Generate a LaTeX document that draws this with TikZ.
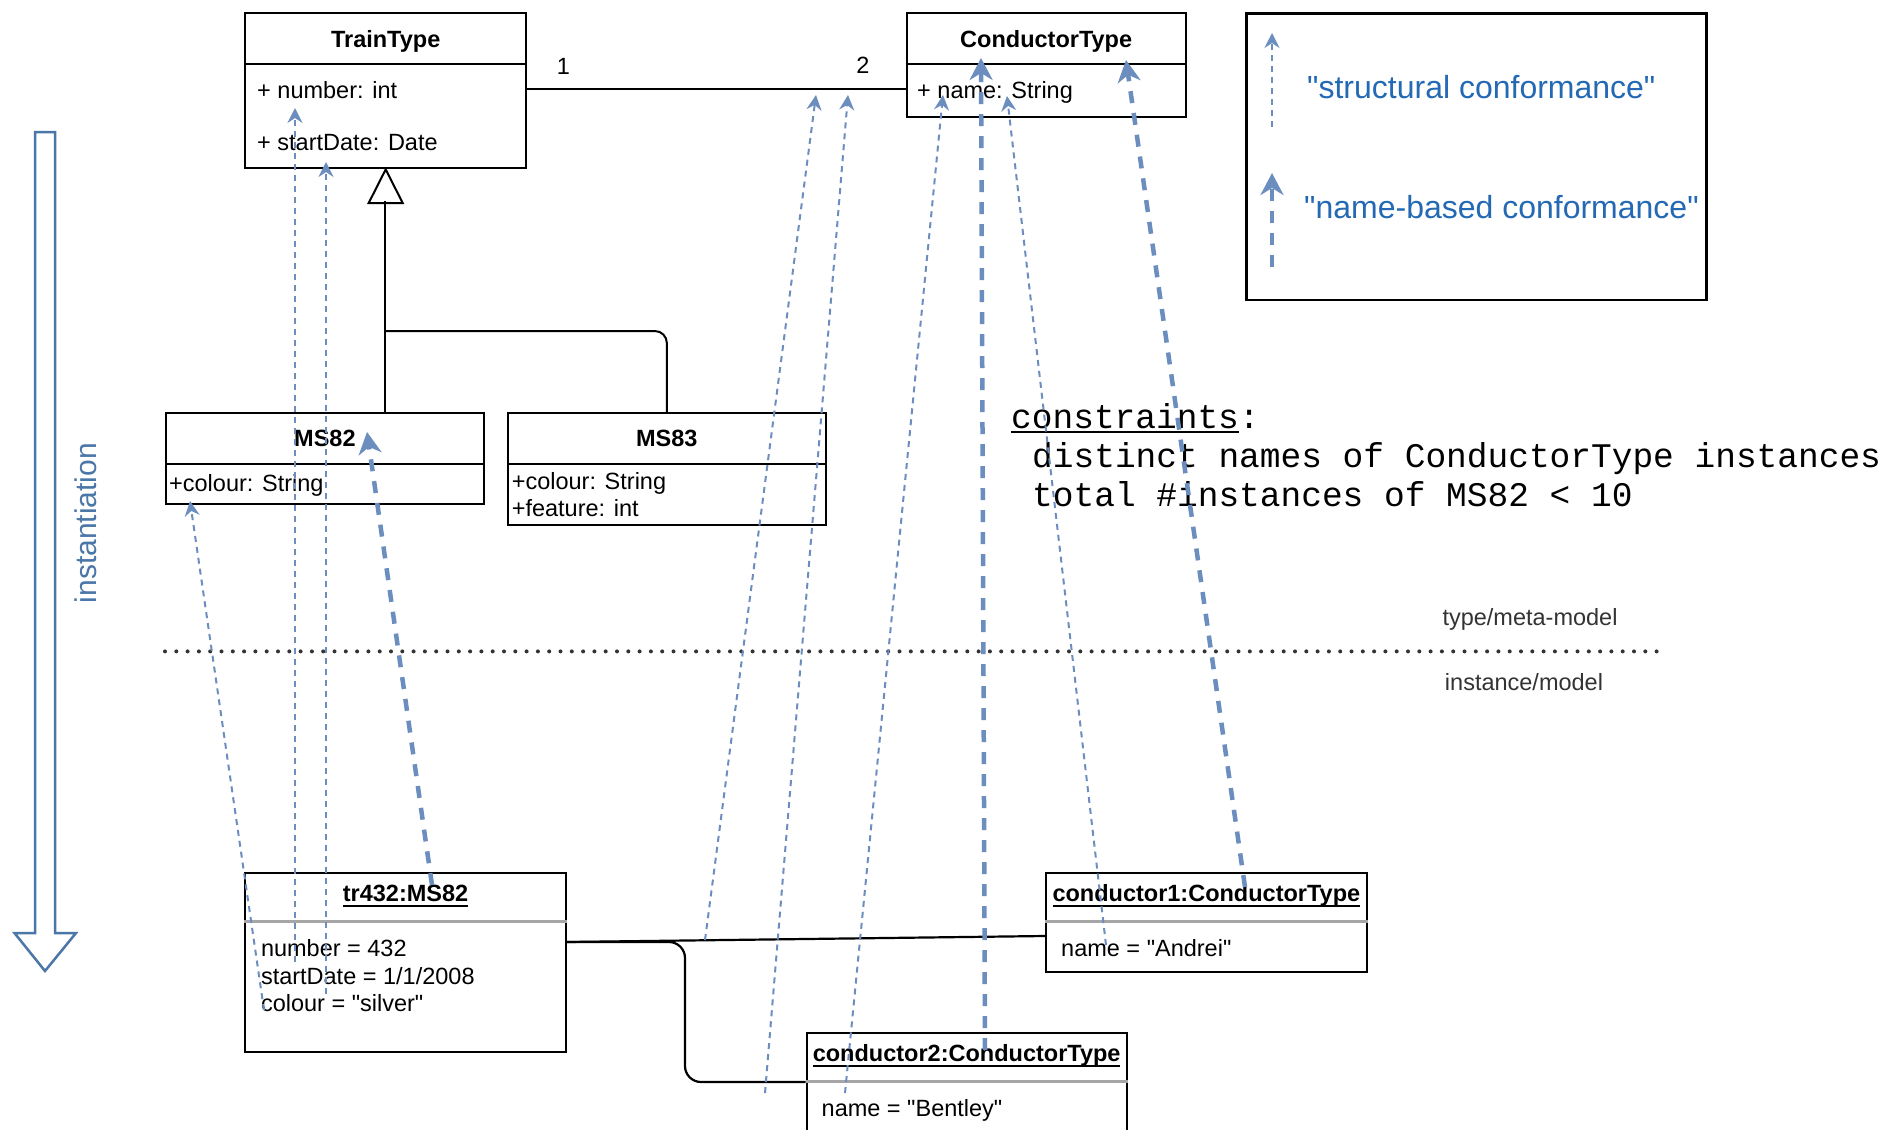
\documentclass[tikz,border=0pt]{standalone}
\usepackage{fontspec}
\setmainfont{Liberation Sans}[Ligatures=TeXOff]
\setmonofont{Liberation Mono}[Ligatures=TeXOff]
\usetikzlibrary{arrows.meta}

\definecolor{conformblue}{HTML}{6C8EBF}
\definecolor{noteblue}{HTML}{2469B4}
\definecolor{instblue}{HTML}{4A76A8}

\newcommand\umlfont{\fontsize{23.5}{28}\selectfont}
\newcommand\legendfont{\fontsize{32}{36}\selectfont}
\newcommand\constraintfont{\fontsize{34.5}{38}\selectfont\ttfamily}
% underline drawn at a fixed depth, crossing descenders
\newcommand\ulin[1]{\setbox0\hbox{#1}\rlap{\rule[-5pt]{\wd0}{2pt}}\box0}

\tikzset{
  umlbox/.style={draw, line width=2pt, inner sep=0pt, anchor=north west},
  divider/.style={line width=2pt},
  objdivider/.style={line width=3pt, black!35},
  umlattr/.style={inner sep=0pt, anchor=base west, font=\umlfont},
  umltitle/.style={inner sep=0pt, anchor=base, font=\umlfont\bfseries},
  assoc/.style={line width=2pt},
  link/.style={line width=2.2pt},
  struct/.style={conformblue, line width=2pt, dash pattern=on 6pt off 5pt,
    -{Stealth[length=15pt,width=15pt,inset=5pt]}},
  namebased/.style={conformblue, line width=4.5pt, dash pattern=on 12pt off 10pt,
    -{Stealth[length=22pt,width=23pt,inset=7pt]}},
  sepdots/.style={line width=4pt, black!80, dash pattern=on 0pt off 11.3pt, line cap=round},
  levellabel/.style={inner sep=0pt, anchor=base, font=\umlfont, text=black!80},
  constraint/.style={inner sep=0pt, anchor=base west, font=\constraintfont},
  legendtext/.style={inner sep=0pt, anchor=base west, font=\legendfont, text=noteblue},
}

\begin{document}
\begin{tikzpicture}[x=1pt,y=-1pt]
\clip (0,0) rectangle (1888,1130);
\fill[white] (0,0) rectangle (1888,1130);

% ---------- type level: classes ----------
\node[umlbox, minimum width=280.6pt, minimum height=155.4pt] (tt) at (244.4,12) {};
\draw[divider] (tt.west |- 0,63.8) -- (tt.east |- 0,63.8);
\node[umltitle] (tt-name) at (tt.north |- 0,47) {TrainType};
\node[umlattr] (tt-num) at (257,98) {+ number: int};
\node[umlattr] (tt-date) at (257,150.5) {+ startDate: Date};

\node[umlbox, minimum width=279.3pt, minimum height=103.6pt] (ct) at (905.5,12) {};
\draw[divider] (ct.west |- 0,63.8) -- (ct.east |- 0,63.8);
\node[umltitle] (ct-name) at (ct.north |- 0,47) {ConductorType};
\node[umlattr] (ct-attr) at (917,98) {+ name: String};

\draw[assoc] (tt.east |- 0,89) -- (ct.west |- 0,89);
\node[umlattr, anchor=base] (mult1) at (563.5,74.5) {1};
\node[umlattr, anchor=base] (mult2) at (863,73.5) {2};

\node[umlbox, minimum width=317.8pt, minimum height=91.5pt] (ms82) at (165,411.8) {};
\draw[divider] (ms82.west |- 0,463.6) -- (ms82.east |- 0,463.6);
\node[umltitle] (ms82-name) at (ms82.north |- 0,446.7) {MS82};
\node[umlattr] (ms82-col) at (169,491.5) {+colour: String};

\node[umlbox, minimum width=317.9pt, minimum height=112pt] (ms83) at (506.9,411.8) {};
\draw[divider] (ms83.west |- 0,463.6) -- (ms83.east |- 0,463.6);
\node[umltitle] (ms83-name) at (ms83.north |- 0,446.7) {MS83};
\node[umlattr] (ms83-col) at (511.6,489.5) {+colour: String};
\node[umlattr] (ms83-feat) at (511.6,516.5) {+feature: int};

% generalization
\draw[line width=2pt, fill=white, line join=miter] (tt.south) -- ++(-17,33.6) -- ++(34,0) -- cycle;
\coordinate (genbase) at (384.7,201);
\draw[assoc] (genbase) -- (genbase |- ms82.north);
\draw[assoc, rounded corners=12pt] (genbase |- 0,331) -- (ms83.north |- 0,331) -- (ms83.north);

% ---------- constraints ----------
\node[constraint] (cons-head) at (1011,428) {\ulin{constraints}:};
\node[constraint] (cons-1) at (1032,467.5) {distinct names of ConductorType instances};
\node[constraint] (cons-2) at (1032,506) {total \#instances of MS82 < 10};

% ---------- level separator ----------
\draw[sepdots] (165,651.4) -- (1659,651.4);
\node[levellabel] (lvl-type) at (1530,625) {type/meta-model};
\node[levellabel] (lvl-inst) at (1524,690) {instance/model};

% ---------- instance level: objects ----------
\node[umlbox, minimum width=320.3pt, minimum height=179.4pt] (tr) at (244.4,871.8) {};
\draw[objdivider] (tr.west |- 0,921.5) -- (tr.east |- 0,921.5);
\node[umltitle] (tr-name) at (tr.north |- 0,901.7) {\ulin{tr432:MS82}};
\node[umlattr] (tr-num) at (260.8,956.7) {number = 432};
\node[umlattr] (tr-date) at (260.8,984) {startDate = 1/1/2008};
\node[umlattr] (tr-col) at (260.8,1011.7) {colour = "silver"};

\node[umlbox, minimum width=320.3pt, minimum height=98.7pt] (cone) at (1045.2,871.8) {};
\draw[objdivider] (cone.west |- 0,921.5) -- (cone.east |- 0,921.5);
\node[umltitle] (cone-name) at (cone.north |- 0,901.7) {\ulin{conductor1:ConductorType}};
\node[umlattr] (cone-attr) at (1061,956.7) {name = "Andrei"};

\node[umlbox, minimum width=320.3pt, minimum height=130pt] (ctwo) at (805.5,1031.9) {};
\draw[objdivider] (ctwo.west |- 0,1081.5) -- (ctwo.east |- 0,1081.5);
\node[umltitle] (ctwo-name) at (ctwo.north |- 0,1061.7) {\ulin{conductor2:ConductorType}};
\node[umlattr] (ctwo-attr) at (821.5,1116.7) {name = "Bentley"};

% links
\draw[link] (tr.east |- 0,942) -- (cone.west |- 0,936);
\draw[link, rounded corners=16pt] (tr.east |- 0,942) -- (685,942) -- (685,1082) -- (ctwo.west |- 0,1082);

% ---------- instantiation arrow ----------
\draw[instblue, line width=2.5pt, line join=miter, fill=white]
  (35,132) -- (55,132) -- (55,933) -- (76,933) -- (45,971) -- (14.5,933) -- (35,933) -- cycle;
\node[rotate=90, inner sep=0pt, font=\fontsize{30}{34}\selectfont, text=instblue] (inst-label) at (86,523) {instantiation};

% ---------- conformance connectors ----------
\coordinate (a0) at (295,962);   \coordinate (a1) at (295,108);
\coordinate (b0) at (326,994);   \coordinate (b1) at (326,162);
\coordinate (c0) at (264,1010);  \coordinate (c1) at (190,501);
\coordinate (d0) at (432,885);   \coordinate (d1) at (367,432);
\coordinate (e0) at (705,940);   \coordinate (e1) at (816,95);
\coordinate (f0) at (765,1093);  \coordinate (f1) at (848,95);
\coordinate (g0) at (845,1093);  \coordinate (g1) at (943,95);
\coordinate (h0) at (985,1050);  \coordinate (h1) at (981,58);
\coordinate (i0) at (1106,945);  \coordinate (i1) at (1007,96);
\coordinate (j0) at (1245,887);  \coordinate (j1) at (1126,60);

\draw[struct] (a0) -- (a1);
\draw[struct] (b0) -- (b1);
\draw[struct] (c0) -- (c1);
\draw[namebased] (d0) -- (d1);
\draw[struct] (e0) -- (e1);
\draw[struct] (f0) -- (f1);
\draw[struct] (g0) -- (g1);
\draw[namebased] (h0) -- (h1);
\draw[struct] (i0) -- (i1);
\draw[namebased] (j0) -- (j1);

% ---------- legend ----------
\node[umlbox, line width=2.5pt, minimum width=460pt, minimum height=286.6pt] (legend) at (1245,12) {};
\coordinate (ls0) at (1272,127); \coordinate (ls1) at (1272,33);
\coordinate (ln0) at (1272,267); \coordinate (ln1) at (1272,173);
\draw[struct] (ls0) -- (ls1);
\draw[namebased] (ln0) -- (ln1);
\node[legendtext] (ls-text) at (1307,98) {"structural conformance"};
\node[legendtext] (ln-text) at (1304,218) {"name-based conformance"};
\end{tikzpicture}
\end{document}
